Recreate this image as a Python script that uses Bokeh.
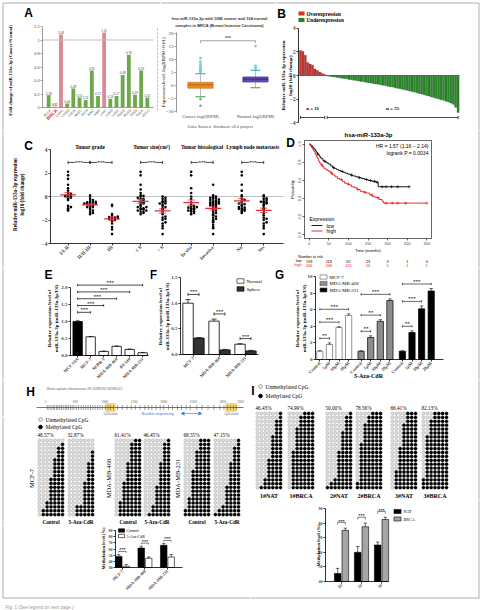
import math
import numpy as np
from bokeh.plotting import figure
from bokeh.layouts import row, column
from bokeh.models import Range1d, FixedTicker, Label, NumeralTickFormatter, Arrow, VeeHead
from bokeh.embed import file_html
from bokeh.resources import INLINE

SERIF = "Liberation Serif"
SANS = "Liberation Sans"

# ---------------- data ----------------
# A: fold change of miR-133a-3p (cancer / normal) per TCGA cohort
a_types = ["BLCA", "BRCA", "CHOL", "COAD", "ESCA", "HNSC", "KICH", "KIRC", "KIRP",
           "LIHC", "LUAD", "LUSC", "PRAD", "READ", "STAD", "THCA", "UCEC"]
a_fold = [0.18, 0.01, 1.08, 0.06, 0.28, 0.15, 0.11, 0.55, 0.17,
          1.11, 0.13, 0.17, 0.48, 0.78, 0.19, 0.55, 0.15]

# A: BRCA expression summary, log2(RPM+0.01)
box_names = ["Cancer log2(RPM)", "Normal log2(RPM)"]
box_low = [-4.4, -0.9]
box_q1 = [-1.1, 1.3]
box_med = [0.2, 2.4]
box_q3 = [1.2, 3.3]
box_high = [4.6, 5.8]
box_out_hi = [[5.2, 5.6, 6.0, 6.5, 7.0, 7.6, 8.3, 9.2, 10.6], [6.4, 7.0, 7.6, 15.2]]
box_out_lo = [[-5.3, -7.9], []]

# B: per-patient log10 fold change
b_over = [2.12, 2.05, 1.72, 1.10, 0.97, 0.88, 0.55, 0.42, 0.30, 0.18, 0.08]
b_under = [-0.04, -0.07, -0.10, -0.12, -0.16, -0.19, -0.23, -0.26, -0.28, -0.33,
           -0.36, -0.40, -0.42, -0.47, -0.50, -0.53, -0.57, -0.61, -0.63, -0.68,
           -0.72, -0.74, -0.79, -0.83, -0.86, -0.91, -0.95, -0.98, -1.04, -1.08,
           -1.12, -1.17, -1.22, -1.26, -1.32, -1.37, -1.41, -1.47, -1.53, -1.57,
           -1.64, -1.70, -1.75, -1.82, -1.88, -1.93, -2.00, -2.06, -2.11, -2.19,
           -2.26, -2.34, -2.45, -2.70, -3.15]

# C: expression by clinical feature
c_titles = ["Tumor grade", "Tumor size(cm\u00b2)", "Tumor histological", "Lymph node metastasis"]
c_labels = [["I/I-II", "II/II-III", "III"], ["\u2264 6", "> 6"], ["In situ", "Invasive"], ["No", "Yes"]]
c_grade_1 = [2.1, 1.8, 1.5, 1.0, 0.7, 0.5, 0.3, 0.2, 0.1, 0.05, 0.0, -0.05, -0.1, -0.2, -0.3,
             -0.8, -0.9, -1.0, -1.1, -1.2]
c_grade_2 = [0.1, 0.0, -0.2, -0.3, -0.4, -0.45, -0.5, -0.5, -0.55, -0.6, -0.6, -0.65, -0.7, -0.7,
             -0.8, -0.8, -0.9, -0.9, -1.0, -1.1, -1.2, -1.3, -1.4, -1.5]
c_grade_3 = [-0.7, -0.8, -1.5, -1.6, -1.7, -1.75, -1.8, -1.8, -1.85, -1.9, -2.0, -2.0, -2.1, -2.3,
             -2.6, -2.8, -3.2]
c_size_le6 = [2.1, 1.8, 1.0, 0.6, 0.3, 0.1, 0.05, 0.0, -0.1, -0.2, -0.2, -0.3, -0.4, -0.5, -0.5,
              -0.6, -0.7, -0.8, -0.9, -0.9, -1.0, -1.0, -1.1, -1.1, -1.2, -1.2, -1.3, -1.3, -1.4, -1.5]
c_size_gt6 = [0.0, -0.1, -0.2, -0.3, -0.4, -0.45, -0.5, -0.6, -0.6, -0.7, -0.8, -0.9, -1.0, -1.1,
              -1.3, -1.5, -1.7, -1.8, -1.9, -2.0, -2.2, -2.3, -2.5, -2.7, -3.2]
c_hist_situ = [2.1, 1.8, 0.7, 0.3, 0.0, -0.2, -0.5, -0.7, -0.8, -0.85, -0.9, -0.95, -1.0, -1.0,
               -1.1, -1.15, -1.2, -1.25, -1.3, -1.4, -1.5]
c_hist_inv = [1.0, 0.1, 0.0, -0.05, -0.1, -0.15, -0.2, -0.25, -0.3, -0.35, -0.4, -0.45, -0.5, -0.5,
              -0.55, -0.6, -0.6, -0.65, -0.7, -0.75, -0.8, -0.85, -0.9, -1.0, -1.1, -1.2, -1.3, -1.4,
              -1.5, -1.6, -1.7, -1.8, -1.9, -2.0, -2.1, -2.2, -2.4, -2.6, -2.7, -3.2]
c_ln_no = [2.1, 1.8, 1.0, 0.5, 0.1, 0.0, -0.2, -0.3, -0.4, -0.5, -0.6, -0.65, -0.7, -0.8, -0.9,
           -0.95, -1.0, -1.05, -1.1, -1.15, -1.2, -1.3, -1.4]
c_ln_yes = [0.1, 0.0, -0.15, -0.2, -0.3, -0.4, -0.45, -0.5, -0.55, -0.6, -0.7, -0.8, -1.0, -1.1,
            -1.2, -1.4, -1.6, -1.8, -1.9, -2.0, -2.2, -2.3, -2.5, -2.7, -3.2]
c_values = [[c_grade_1, c_grade_2, c_grade_3], [c_size_le6, c_size_gt6],
            [c_hist_situ, c_hist_inv], [c_ln_no, c_ln_yes]]
c_pairs = [[(0, 1), (1, 2)], [(0, 1)], [(0, 1)], [(0, 1)]]

# D: Kaplan-Meier estimates
km_low_t = [0, 3, 6, 9, 12, 15, 18, 21, 25, 28, 31, 35, 38, 42, 46, 50, 55, 60, 65, 70, 75, 80,
            86, 92, 98, 104, 110, 118, 126, 134, 142, 150, 160, 170, 176, 255]
km_low_s = [1.0, 0.99, 0.98, 0.96, 0.95, 0.93, 0.91, 0.89, 0.87, 0.85, 0.84, 0.82, 0.81, 0.80,
            0.79, 0.78, 0.76, 0.74, 0.73, 0.72, 0.71, 0.70, 0.69, 0.68, 0.67, 0.66, 0.65, 0.64,
            0.63, 0.62, 0.61, 0.60, 0.59, 0.58, 0.53, 0.53]
km_high_t = [0, 3, 6, 9, 12, 15, 18, 21, 24, 27, 30, 34, 38, 42, 46, 50, 55, 60, 66, 72, 78, 84,
             90, 96, 102, 108, 115, 122, 130, 138, 146, 154, 162, 170, 178, 186, 190, 300]
km_high_s = [1.0, 0.98, 0.96, 0.94, 0.92, 0.89, 0.86, 0.84, 0.81, 0.79, 0.77, 0.75, 0.73, 0.72,
             0.71, 0.70, 0.68, 0.66, 0.64, 0.62, 0.61, 0.59, 0.57, 0.56, 0.55, 0.53, 0.52, 0.50,
             0.48, 0.47, 0.46, 0.44, 0.42, 0.41, 0.39, 0.37, 0.35, 0.35]
km_low_cens = [22, 40, 62, 84, 108, 128, 146, 156, 166, 173, 186, 196, 210, 226, 255]
km_high_cens = [33, 57, 82, 100, 124, 142, 160, 176, 196, 212, 226, 246, 300]
risk_times = [0, 50, 100, 150, 200, 250, 300]
risk_low = [193, 118, 62, 23, 3, 1, 0]
risk_high = [406, 248, 125, 53, 5, 1, 1]

# E: cell lines
e_lines = ["MCF-10A", "MCF-7", "SKBR-3", "MDA-MB-468", "BT-549", "MDA-MB-231"]
e_expr = [1.00, 0.55, 0.12, 0.27, 0.18, 0.08]
e_err = [0.02, 0.01, 0.01, 0.01, 0.01, 0.01]

# F: normal vs sphere culture
f_lines = ["MCF-7", "MDA-MB-468", "MDA-MB-231"]
f_normal = [1.00, 0.65, 0.20]
f_normal_err = [0.07, 0.04, 0.01]
f_sphere = [0.32, 0.09, 0.07]
f_sphere_err = [0.01, 0.01, 0.01]

# G: 5-Aza-CdR dose response
g_lines = ["MCF-7", "MDA-MB-468", "MDA-MB-231"]
g_doses = ["Control", "5\u03bcM", "10\u03bcM", "20\u03bcM"]
g_expr = [[1.0, 1.8, 3.85, 5.3], [1.0, 2.65, 4.6, 7.1], [1.0, 3.25, 6.1, 8.25]]
g_err = [[0.05, 0.2, 0.1, 0.2], [0.05, 0.2, 0.2, 0.2], [0.05, 0.2, 0.35, 0.3]]
g_stars = [["**", "***", "***"], ["**", "**", "***"], ["**", "***", "***"]]

# H: promoter CpG map and bisulfite clones (methylated sites per clone, 7 sites x 20 clones)
cpg_sites = [30, 60, 95, 130, 150, 185, 210, 240, 270, 300, 335, 360, 390, 420, 450, 480, 520,
             560, 600, 640, 680, 720, 760, 800, 840, 880, 920, 960, 1010, 1060, 1100, 1150, 1220,
             1300, 1380, 1450, 1520, 1600, 1680, 1740, 1800, 1870, 1940, 2000, 2080, 2150, 2230,
             2300, 2380, 2450, 2560, 2650, 2750, 2850, 2950, 3020, 3080, 3130, 3180, 3230]
cpg_islands = [(1020, 1180), (3050, 3230)]
ruler_pos = [0, 500, 1000, 1500, 2000, 2500, 3000, 3300]
ruler_txt = ["1", "500", "1000", "1500", "2000", "2500", "3000", "3300"]
h_cells = ["MCF-7", "MDA-MB-468", "MDA-MB-231"]
h_cond = ["Control", "5-Aza-CdR"]
h_pct = ["48.57%", "32.87%", "61.41%", "46.45%", "68.55%", "47.15%"]
h_counts = [
    [0, 1, 2, 2, 2, 3, 3, 3, 3, 3, 4, 4, 4, 4, 4, 4, 5, 5, 6, 6],
    [0, 0, 0, 1, 1, 1, 2, 2, 2, 2, 2, 3, 3, 3, 3, 3, 3, 5, 5, 5],
    [2, 3, 3, 3, 3, 3, 4, 4, 4, 4, 4, 5, 5, 5, 5, 5, 6, 6, 6, 6],
    [1, 2, 2, 2, 2, 2, 3, 3, 3, 3, 3, 3, 4, 4, 4, 4, 4, 5, 5, 6],
    [3, 3, 3, 4, 4, 4, 4, 4, 5, 5, 5, 5, 5, 5, 5, 6, 6, 6, 7, 7],
    [1, 1, 2, 2, 2, 2, 3, 3, 3, 3, 3, 3, 4, 4, 4, 4, 4, 5, 6, 7],
]
h_meth = [48.0, 61.5, 66.0]
h_meth_err = [3.0, 3.0, 3.0]
h_aza = [32.0, 45.0, 47.0]
h_aza_err = [3.0, 2.0, 4.0]

# I: paired tissue clones
i_names = ["1#NAT", "1#BRCA", "2#NAT", "2#BRCA", "3#NAT", "3#BRCA"]
i_pct = ["46.43%", "74.99%", "50.00%", "78.56%", "66.41%", "82.13%"]
i_counts = [
    [1, 1, 2, 2, 2, 2, 3, 3, 3, 3, 3, 3, 4, 4, 4, 4, 4, 5, 5, 6],
    [3, 4, 4, 4, 5, 5, 5, 5, 5, 5, 6, 6, 6, 6, 6, 6, 6, 6, 6, 6],
    [1, 2, 2, 2, 2, 3, 3, 3, 3, 3, 4, 4, 4, 4, 4, 4, 4, 5, 6, 7],
    [3, 4, 4, 5, 5, 5, 5, 5, 6, 6, 6, 6, 6, 6, 6, 6, 6, 6, 7, 7],
    [3, 3, 3, 4, 4, 4, 4, 4, 4, 5, 5, 5, 5, 5, 5, 6, 6, 6, 6, 6],
    [4, 4, 5, 5, 5, 5, 6, 6, 6, 6, 6, 6, 6, 6, 6, 6, 6, 7, 7, 7],
]
i_pairs = ["1#", "2#", "3#"]
i_nat = [45.5, 60.0, 65.0]
i_nat_err = [3.5, 4.0, 2.0]
i_brca = [75.0, 77.5, 82.5]
i_brca_err = [1.5, 2.5, 1.5]

PAGE_W, FRAMED_H = 481, 600


# ---------------- helpers ----------------
class Panel:
    """A figure at a fixed page box.  The plot frame fills the whole box; `plot` is the
    page rectangle that the data ranges `xr`, `yr` span, and axes are pinned to its edges."""

    def __init__(self, box, plot=None, xr=(0.0, 1.0), yr=(0.0, 1.0), x_axis=False, y_axis=False):
        bx, by, bw, bh = box
        self.boxr = box
        self.plot = plot if plot is not None else (bx, by, bx + bw, by + bh)
        self.xr, self.yr = xr, yr
        left = self.at(bx, by)[0]
        right = self.at(bx + bw, by)[0]
        bottom = self.at(bx, by + bh)[1]
        top = self.at(bx, by)[1]
        self.p = figure(width=bw, height=bh, x_range=Range1d(left, right), y_range=Range1d(bottom, top),
                        x_axis_location="below" if x_axis else None,
                        y_axis_location="left" if y_axis else None,
                        min_border=0, min_border_left=0, min_border_right=0,
                        min_border_top=0, min_border_bottom=0,
                        output_backend="svg", toolbar_location=None)
        self.p.outline_line_color = None
        self.p.grid.visible = False
        self.p.background_fill_color = "white"
        self.p.border_fill_color = "white"
        if x_axis:
            xa = self.p.xaxis[0]
            xa.fixed_location = yr[0]
            xa.bounds = (min(xr), max(xr))
        if y_axis:
            ya = self.p.yaxis[0]
            ya.fixed_location = xr[0]
            ya.bounds = (min(yr), max(yr))

    def at(self, X, Y):
        fl, ft, fr, fb = self.plot
        x0, x1 = self.xr
        yb, yt = self.yr
        return (x0 + (X - fl) / (fr - fl) * (x1 - x0),
                yt + (Y - ft) / (fb - ft) * (yb - yt))

    def sx(self, n):
        fl, ft, fr, fb = self.plot
        return n * abs(self.xr[1] - self.xr[0]) / (fr - fl)

    def sy(self, n):
        fl, ft, fr, fb = self.plot
        return n * abs(self.yr[1] - self.yr[0]) / (fb - ft)

    def dtext(self, x, y, s, size=5.0, font=SERIF, style="normal", color="black",
              align="left", baseline="middle", angle=0.0, bg=None):
        kw = dict(x=x, y=y, text=s, text_font=font, text_font_size=f"{size}px",
                  text_font_style=style, text_color=color, text_align=align,
                  text_baseline=baseline, angle=angle)
        if bg:
            kw["background_fill_color"] = bg
        self.p.add_layout(Label(**kw))

    def text(self, X, Y, s, size=5.0, font=SERIF, style="normal", color="black",
             align="left", baseline="middle", angle=0.0, bg=None):
        x, y = self.at(X, Y)
        self.dtext(x, y, s, size, font, style, color, align, baseline, angle, bg)

    def box(self, X, Y, w, h, fill, line="black"):
        x, y = self.at(X, Y)
        self.p.rect(x=[x], y=[y], width=self.sx(w), height=self.sy(h),
                    fill_color=fill, line_color=line, line_width=0.6)

    def pline(self, X0, Y0, X1, Y1, color, width=0.8, dash="solid"):
        x0, y0 = self.at(X0, Y0)
        x1, y1 = self.at(X1, Y1)
        self.p.segment(x0=[x0], y0=[y0], x1=[x1], y1=[y1], line_color=color,
                       line_width=width, line_dash=dash)

    def page_edges(self, inset=2.5, color="#9a9a9a"):
        # the thin rule that frames the whole figure
        bx, by, bw, bh = self.boxr
        L, T, R, Bt = inset, inset, PAGE_W - inset, FRAMED_H - inset
        xa, xb = max(bx, L), min(bx + bw, R)
        ya, yb = max(by, T), min(by + bh, Bt)
        if by <= T:
            self.pline(xa, T, xb, T, color)
        if by + bh >= Bt:
            self.pline(xa, Bt, xb, Bt, color)
        if bx <= L:
            self.pline(L, ya, L, yb, color)
        if bx + bw >= R:
            self.pline(R, ya, R, yb, color)


def style_axis(ax, size=5.0, font=SERIF, bold=True, tick_out=2, color="black", width=0.8):
    ax.major_label_text_font = font
    ax.major_label_text_font_size = f"{size}px"
    ax.major_label_text_font_style = "bold" if bold else "normal"
    ax.major_label_standoff = 1
    ax.major_tick_in = 0
    ax.major_tick_out = tick_out
    ax.minor_tick_in = 0
    ax.minor_tick_out = 0
    ax.axis_line_color = color
    ax.axis_line_width = width
    ax.major_tick_line_color = color
    ax.major_tick_line_width = width


def bar_axes(pn, yticks, ybounds, xticks, xlabels, ysize=5.0, xsize=5.0, fmt=None):
    ya = pn.p.yaxis[0]
    ya.ticker = FixedTicker(ticks=yticks)
    ya.bounds = ybounds
    if fmt:
        ya.formatter = NumeralTickFormatter(format=fmt)
    style_axis(ya, ysize)
    xa = pn.p.xaxis[0]
    xa.ticker = FixedTicker(ticks=xticks)
    xa.major_label_overrides = {t: l for t, l in zip(xticks, xlabels)}
    xa.major_label_orientation = math.pi / 4
    style_axis(xa, xsize)


def bracket(pn, x0, x1, y, tick, stars, size=5.0, ends="both", color="black", lw=0.7,
            inline=False, font=SERIF):
    p = pn.p
    p.segment(x0=[x0], y0=[y], x1=[x1], y1=[y], line_color=color, line_width=lw)
    lo = y - tick
    hi = y + tick if ends == "both" else y
    p.segment(x0=[x0, x1], y0=[lo, lo], x1=[x0, x1], y1=[hi, hi], line_color=color, line_width=lw)
    if not stars:
        return
    if inline:
        pn.dtext((x0 + x1) / 2, y, stars, size, font, "bold", color, "center", "middle", bg="white")
    else:
        pn.dtext((x0 + x1) / 2, y, stars, size, font, "bold", color, "center", "bottom")


def up_errors(p, xs, tops, errs, cap, lw=0.7):
    ends = [t + e for t, e in zip(tops, errs)]
    p.segment(x0=xs, y0=tops, x1=xs, y1=ends, line_color="black", line_width=lw)
    p.segment(x0=[x - cap for x in xs], y0=ends, x1=[x + cap for x in xs], y1=ends,
              line_color="black", line_width=lw)


def swarm(vals, step=0.16, dx=0.13):
    # spread points sharing a value band sideways, alternating right/left
    order = np.argsort(vals, kind="stable")
    offs = np.zeros(len(vals))
    used = {}
    for i in order:
        b = int(round(vals[i] / step))
        k = used.get(b, 0)
        used[b] = k + 1
        offs[i] = ((k + 1) // 2) * dx * (1 if k % 2 == 1 else -1)
    return offs


def draw_matrix(pn, left, top, counts, ncol=7, px=3.85, py=3.9, size=3.3):
    mx, my, ux, uy = [], [], [], []
    for r, k in enumerate(counts):
        for c in range(ncol):
            x = left + px * (c + 0.5)
            y = top + py * r
            if c >= ncol - k:
                mx.append(x); my.append(y)
            else:
                ux.append(x); uy.append(y)
    pn.p.scatter(x=ux, y=uy, marker="circle", size=size, fill_color="#dedede",
                 line_color="#9c9c9c", line_width=0.4)
    pn.p.scatter(x=mx, y=my, marker="circle", size=size, fill_color="black", line_color="black",
                 line_width=0.3)


def legend_cpg(pn, X, Y1, Y2, size=5.5):
    x1, y1 = pn.at(X, Y1)
    x2, y2 = pn.at(X, Y2)
    pn.p.scatter(x=[x1], y=[y1], marker="circle", size=3.6, fill_color="white", line_color="#555", line_width=0.6)
    pn.p.scatter(x=[x2], y=[y2], marker="circle", size=3.6, fill_color="black", line_color="black")
    pn.text(X + 5, Y1, "Unmethylated CpG", size)
    pn.text(X + 5, Y2, "Methylated CpG", size)


HALF_PI = math.pi / 2

# ---------------- A (left): fold change bars ----------------
A1 = Panel((0, 0, 160, 130), (42, 26, 153, 107), (-1.0, 17.0), (0.0, 1.2), True, True)
p = A1.p
a_x = list(range(len(a_types)))
p.vbar(x=a_x, top=a_fold, width=0.62, line_color=None,
       fill_color=["#d98a93" if v > 1 else "#6ea84c" for v in a_fold])
p.segment(x0=[-1.0], y0=[1.0], x1=[17.0], y1=[1.0], line_color="#bdbdbd", line_width=1.0)
A1.pline(157, 28, 157, 112, "#a0a0a0", 0.8, "2 2")
ya = p.yaxis[0]
ya.ticker = FixedTicker(ticks=[0, 0.2, 0.4, 0.6, 0.8, 1.0, 1.2])
ya.formatter = NumeralTickFormatter(format="0.[0]")
style_axis(ya, 3.8, SANS, False, color="#888")
xa = p.xaxis[0]
xa.ticker = FixedTicker(ticks=[])
style_axis(xa, 3.8, SANS, False, color="#888")
for i, (t, v) in enumerate(zip(a_types, a_fold)):
    hot = t == "BRCA"
    A1.dtext(i, v + 0.015, f"{v:.2f}", 3.0, SANS, "bold" if hot else "normal",
             "#d62020" if hot else "#444", "center", "bottom")
    A1.dtext(i + 0.3, -0.035, t, 4.6 if hot else 3.4, SANS, "bold" if hot else "normal",
             "#e01b1b" if hot else "#444", "right", "middle", math.pi / 4)
A1.text(10, 70, "Fold change of miR-133a-3p (Cancer/Normal)", 4.6, SERIF, "bold", align="center", angle=HALF_PI)
A1.text(28, 12, "A", 12, SANS, "bold", align="center")

# ---------------- A (right): box plot ----------------
A2 = Panel((160, 0, 115, 130), (176, 32, 270, 112), (-0.436, 1.273), (-10.5, 20.5), True, True)
p = A2.p
bx = [0, 1]
p.segment(x0=bx, y0=box_q3, x1=bx, y1=box_high, line_color="#8c8c8c", line_width=0.6)
p.segment(x0=bx, y0=box_low, x1=bx, y1=box_q1, line_color="#8c8c8c", line_width=0.6)
p.vbar(x=bx, bottom=box_q1, top=box_q3, width=0.46, fill_color=["#ea8a2e", "#5b4db6"],
       line_color=["#c46b17", "#3d318f"], line_width=0.6)
p.segment(x0=[x - 0.23 for x in bx], y0=box_med, x1=[x + 0.23 for x in bx], y1=box_med,
          line_color=["#a85410", "#2e2470"], line_width=0.8)
p.segment(x0=[x - 0.09 for x in bx], y0=box_high, x1=[x + 0.09 for x in bx], y1=box_high,
          line_color="#48b8cc", line_width=1.2)
p.segment(x0=[x - 0.09 for x in bx], y0=box_low, x1=[x + 0.09 for x in bx], y1=box_low,
          line_color="#35a035", line_width=1.2)
for x, hi, lo in zip(bx, box_out_hi, box_out_lo):
    p.scatter(x=[x] * len(hi), y=hi, marker="circle", size=2.2, fill_color="#8fd6e2",
              line_color="#4fb3c6", line_width=0.4)
    if lo:
        p.scatter(x=[x] * len(lo), y=lo, marker="circle", size=2.2, fill_color="#a0a0a0",
                  line_color="#777", line_width=0.4)
ya = p.yaxis[0]
ya.ticker = FixedTicker(ticks=[-10, -5, 0, 5, 10, 15, 20])
style_axis(ya, 5.0, SERIF, False, color="#555", width=0.6)
xa = p.xaxis[0]
xa.ticker = FixedTicker(ticks=bx)
xa.major_label_overrides = {0: box_names[0], 1: box_names[1]}
style_axis(xa, 4.8, SERIF, False, tick_out=0)
xa.axis_line_color = None
bracket(A2, 0, 1, 17.3, 0.0, "***", 5.0, color="#666", lw=0.6, font=SANS)
p.segment(x0=[0, 1], y0=[17.3, 17.3], x1=[0, 1], y1=[16.4, 16.4], line_color="#666", line_width=0.6)
A2.text(219, 18, "hsa-miR-133a-3p with 1085 cancer and 104 normal", 4.0, SANS, "bold", "#333", "center")
A2.text(219, 25, "samples in BRCA (Breast Invasive Carcinoma)", 4.0, SANS, "bold", "#333", "center")
A2.text(221, 126, "Data Source:   Starbase v3.0 project", 4.2, SANS, "normal", "#555", "center")
A2.text(163, 72, "Expression level: log2(RPM+0.01)", 5.0, SERIF, align="center", angle=HALF_PI)

# ---------------- B: waterfall ----------------
B = Panel((275, 0, 206, 130), (298, 27, 460, 123), (-0.8, 66.0), (-4.08, 4.08), False, True)
p = B.p
n_over, n_under = len(b_over), len(b_under)
p.vbar(x=list(range(n_over)), bottom=0, top=b_over, width=0.86, fill_color="#c0392f",
       line_color="#6e1510", line_width=0.3)
p.vbar(x=list(range(n_over, n_over + n_under)), bottom=0, top=b_under, width=0.86,
       fill_color="#2c8a2c", line_color="#124d12", line_width=0.3)
p.segment(x0=[-0.5], y0=[0], x1=[n_over + n_under - 0.5], y1=[0], line_color="#444", line_width=0.6)
ya = p.yaxis[0]
ya.ticker = FixedTicker(ticks=[-4, -2, 0, 2, 4])
ya.bounds = (-4, 4)
style_axis(ya, 5.2)
yb = B.at(0, 117)[1]
bracket(B, 0, n_over - 1, yb, 0.14, "")
bracket(B, n_over, n_over + n_under - 1, yb, 0.14, "")
yn = B.at(0, 108)[1]
B.dtext((n_over - 1) / 2, yn, f"n = {n_over}", 5.0, SERIF, "bold", align="center")
B.dtext(n_over + (n_under - 1) / 2, yn, f"n = {n_under}", 5.0, SERIF, "bold", align="center")
B.box(301, 13, 6, 4, "#e0302a", None)
B.box(301, 19.5, 6, 4, "#1d8a1d", None)
B.text(306, 13, "Overexpression", 5.2, SERIF, "bold")
B.text(306, 19.5, "Underexpression", 5.2, SERIF, "bold")
B.text(283, 75, "Relative miR-133a-3p expression", 5.0, SERIF, "bold", align="center", angle=HALF_PI)
B.text(290, 75, "log10 (fold change)", 5.0, SERIF, "bold", align="center", angle=HALF_PI)
B.text(281, 13.5, "B", 12, SANS, "bold", align="center")

# ---------------- C: clinical features ----------------
C = Panel((0, 130, 285, 137), (50, 149, 283, 243), (-0.8, 9.8), (-4.0, 4.0), True, True)
p = C.p
p.segment(x0=[-0.8], y0=[0], x1=[9.8], y1=[0], line_color="#b0b0b0", line_width=0.8)
c_ticks, c_ticklabels = [], []
k = 0
for g, vals_g in enumerate(c_values):
    ps = []
    for j, vals in enumerate(vals_g):
        x = k + 0.3 * g
        ps.append(x)
        c_ticks.append(x)
        c_ticklabels.append(c_labels[g][j])
        k += 1
        v = np.array(vals)
        p.scatter(x=x + swarm(v), y=v, marker="circle", size=2.6, fill_color="black", line_color=None)
        m = v.mean()
        se = v.std(ddof=1) / math.sqrt(len(v))
        p.segment(x0=[x - 0.36], y0=[m], x1=[x + 0.36], y1=[m], line_color="#e0303a", line_width=1.2)
        p.segment(x0=[x, x - 0.16, x - 0.16], y0=[m - se, m - se, m + se],
                  x1=[x, x + 0.16, x + 0.16], y1=[m + se, m - se, m + se],
                  line_color="#e0303a", line_width=0.8)
    C.dtext(sum(ps) / len(ps), C.at(0, 146)[1], c_titles[g], 5.3, SERIF, "bold", align="center")
    for a, b in c_pairs[g]:
        bracket(C, ps[a], ps[b], 2.9, 0.13, "***", 5.0, inline=True)
ya = p.yaxis[0]
ya.ticker = FixedTicker(ticks=[-4, -2, 0, 2, 4])
style_axis(ya, 5.5)
xa = p.xaxis[0]
xa.ticker = FixedTicker(ticks=c_ticks)
xa.major_label_overrides = {t: l for t, l in zip(c_ticks, c_ticklabels)}
xa.major_label_orientation = math.pi / 4
style_axis(xa, 5.0)
C.text(14, 194, "Relative miR-133a-3p expression", 5.2, SERIF, "bold", align="center", angle=HALF_PI)
C.text(21, 194, "log10 (fold change)", 5.2, SERIF, "bold", align="center", angle=HALF_PI)
C.text(28, 145, "C", 12, SANS, "bold", align="center")

# ---------------- D: Kaplan-Meier ----------------
D = Panel((285, 130, 196, 137), (304, 140, 431, 238), (-12, 312), (-0.04, 1.04), True, True)
p = D.p
p.quad(left=[-12], right=[312], bottom=[-0.04], top=[1.04], fill_color=None,
       line_color="black", line_width=0.6)


def surv_at(times, surv, t):
    i = int(np.searchsorted(times, t, side="right")) - 1
    return surv[max(i, 0)]


for ts, ss, cens, col in [(km_low_t, km_low_s, km_low_cens, "black"),
                          (km_high_t, km_high_s, km_high_cens, "#e8161b")]:
    p.step(x=ts, y=ss, mode="after", line_color=col, line_width=0.9)
    p.scatter(x=cens, y=[surv_at(ts, ss, t) for t in cens], marker="cross", size=3.2,
              line_color=col, line_width=0.6)
ya = p.yaxis[0]
ya.ticker = FixedTicker(ticks=[0, 0.2, 0.4, 0.6, 0.8, 1.0])
ya.formatter = NumeralTickFormatter(format="0.0")
ya.major_label_orientation = "vertical"
style_axis(ya, 4.0, SANS, False, width=0.6)
ya.axis_line_color = None
xa = p.xaxis[0]
xa.ticker = FixedTicker(ticks=risk_times)
style_axis(xa, 4.0, SANS, False, width=0.6)
xa.axis_line_color = None
D.text(368, 134.5, "hsa-miR-133a-3p", 6.0, SANS, "bold", align="center")
D.text(428, 145.5, "HR = 1.57 (1.16 \u2212 2.14)", 5.0, SANS, align="right")
D.text(428, 152, "logrank P = 0.0034", 5.0, SANS, align="right")
D.text(309, 218.5, "Expression", 5.0, SANS)
for Y, col, name in [(225, "black", "low"), (230.5, "#e8161b", "high")]:
    D.pline(311, Y, 322, Y, col, 0.9)
    D.text(326, Y, name, 5.0, SANS)
D.text(292, 189, "Probability", 4.0, SANS, align="center", angle=HALF_PI)
D.text(367.5, 250, "Time (months)", 4.0, SANS, align="center")
D.text(310, 256.5, "Number at risk", 3.8, SANS, align="center")
D.text(301, 260.5, "low", 3.8, SANS, align="right")
D.text(301, 264.5, "high", 3.8, SANS, color="#e8161b", align="right")
for t, lo, hi in zip(risk_times, risk_low, risk_high):
    D.dtext(t, D.at(0, 260.5)[1], str(lo), 3.8, SANS, align="center")
    D.dtext(t, D.at(0, 264.5)[1], str(hi), 3.8, SANS, color="#e8161b", align="center")
D.text(290, 142, "D", 12, SANS, "bold", align="center")

# ---------------- E: cell lines ----------------
E = Panel((0, 267, 150, 113), (70, 287, 148, 355), (-0.55, 5.45), (0, 2.0), True, True)
p = E.p
ex = list(range(len(e_lines)))
p.vbar(x=ex, top=e_expr, width=0.72, fill_color=["black"] + ["white"] * (len(ex) - 1),
       line_color="black", line_width=0.8)
up_errors(p, ex, e_expr, e_err, 0.15)
for k in range(1, len(ex)):
    bracket(E, 0, k, 1.07 + 0.2 * k, 0.035, "***", 5.0)
bar_axes(E, [0, 0.5, 1.0, 1.5, 2.0], (0, 2.0), ex, e_lines, xsize=4.4, fmt="0.0")
E.text(49, 318, "Relative expression level of", 5.0, SERIF, "bold", align="center", angle=HALF_PI)
E.text(56, 318, "miR-133a-3p (miR-133a-3p/U6)", 5.0, SERIF, "bold", align="center", angle=HALF_PI)
E.text(48, 274.5, "E", 12, SANS, "bold", align="center")

# ---------------- F: sphere culture ----------------
F = Panel((150, 267, 125, 113), (180, 277, 258, 354), (-0.5, 2.5), (0, 1.5), True, True)
p = F.p
fx = list(range(len(f_lines)))
off = 0.21
xn = [x - off for x in fx]
xs_ = [x + off for x in fx]
p.vbar(x=xn, top=f_normal, width=0.4, fill_color="white", line_color="black", line_width=0.8)
p.vbar(x=xs_, top=f_sphere, width=0.4, fill_color="#333333", line_color="black", line_width=0.8)
up_errors(p, xn, f_normal, f_normal_err, 0.1)
up_errors(p, xs_, f_sphere, f_sphere_err, 0.1)
for i in fx:
    h = max(f_normal[i] + f_normal_err[i], f_sphere[i] + f_sphere_err[i]) + 0.1
    bracket(F, xn[i], xs_[i], h, 0.03, "***", 5.0)
bar_axes(F, [0, 0.5, 1.0, 1.5], (0, 1.5), fx, f_lines, xsize=4.4, fmt="0.0")
F.box(240, 280.5, 7, 4.5, "white")
F.box(240, 288.5, 7, 4.5, "#333333")
F.text(246, 280.5, "Normal", 5.0)
F.text(246, 288.5, "Sphere", 5.0)
F.text(160, 316, "Relative expression level of", 5.0, SERIF, "bold", align="center", angle=HALF_PI)
F.text(167, 316, "miR-133a-3p (miR-133a-3p/U6)", 5.0, SERIF, "bold", align="center", angle=HALF_PI)
F.text(153, 274.5, "F", 12, SANS, "bold", align="center")

# ---------------- G: 5-Aza-CdR ----------------
G = Panel((275, 267, 206, 113), (315, 276, 443, 359), (-0.45, 12.88), (0, 10), True, True)
p = G.p
g_fill = ["white", "#8c8c8c", "black"]
g_ticks, g_ticklabels = [], []
for g in range(len(g_lines)):
    xg = [g * 4.3 + i for i in range(len(g_doses))]
    g_ticks += xg
    g_ticklabels += g_doses
    p.vbar(x=xg, top=g_expr[g], width=0.65, fill_color=g_fill[g],
           line_color="#666" if g == 0 else "black", line_width=0.7)
    up_errors(p, xg, g_expr[g], g_err[g], 0.18, lw=0.6)
    for i in range(1, len(g_doses)):
        bracket(G, xg[0], xg[i], g_expr[g][i] + g_err[g][i] + 0.55, 0.14, g_stars[g][i - 1], 5.0, lw=0.6)
bar_axes(G, [0, 2, 4, 6, 8, 10], (0, 10), g_ticks, g_ticklabels, xsize=4.5)
for j, (name, col) in enumerate(zip(g_lines, g_fill)):
    G.box(323, 276.5 + 6.5 * j, 7, 4.2, col, "#555")
    G.text(329, 276.5 + 6.5 * j, name, 4.8)
G.text(368, 375, "5-Aza-CdR", 6.0, SERIF, "bold", align="center")
G.text(297, 318, "Relative expression level of", 5.0, SERIF, "bold", align="center", angle=HALF_PI)
G.text(304, 318, "miR-133a-3p (miR-133a-3p/U6)", 5.0, SERIF, "bold", align="center", angle=HALF_PI)
G.text(279, 274.5, "G", 12, SANS, "bold", align="center")

# ---------------- H: CpG map ----------------
bp_px, bp_org = 0.0591, 45.0
HG = Panel((0, 380, 250, 36), None, (-bp_org / bp_px, (250 - bp_org) / bp_px), (416, 380))
p = HG.p
p.quad(left=[a for a, b in cpg_islands], right=[b for a, b in cpg_islands], top=403, bottom=411,
       fill_color="#f6d365", fill_alpha=0.9, line_color="#e0b840", line_width=0.4)
p.segment(x0=[-150], y0=[407], x1=[3350], y1=[407], line_color="#555", line_width=0.8)
p.segment(x0=cpg_sites, y0=404.5, x1=cpg_sites, y1=409.5, line_color="#444", line_width=0.5)
for pos, t in zip(ruler_pos, ruler_txt):
    HG.dtext(pos, 400.5, t, 3.4, SERIF, color="#555", align="center")
for a, b in cpg_islands:
    HG.dtext((a + b) / 2, 413, "CpG island", 2.8, SANS, color="#666", align="center")
HG.dtext(1900, 413, "Bisulfite sequencing", 3.6, SANS, color="#3a6fd8", align="center")
p.add_layout(Arrow(start=VeeHead(size=3, line_color="#3a6fd8", fill_color="#3a6fd8"),
                   end=VeeHead(size=3, line_color="#3a6fd8", fill_color="#3a6fd8"),
                   x_start=2300, y_start=413, x_end=2640, y_end=413,
                   line_color="#3a6fd8", line_width=0.6))
HG.text(46, 388.5, "Homo sapiens chromosome 20: 62965912-62965113", 3.6, SERIF, "italic", "#555")
HG.text(30, 391, "H", 12, SANS, "bold", align="center")

# ---------------- H: bisulfite clones ----------------
HM = Panel((0, 416, 250, 109), None, (0, 250), (525, 416))
legend_cpg(HM, 40, 419, 426.5)
h_lefts = [37, 67, 114, 143, 183, 213]
for m, (left, counts) in enumerate(zip(h_lefts, h_counts)):
    draw_matrix(HM, left, 440, counts)
    HM.text(left, 434, h_pct[m], 5.2)
    HM.text(left + 13.5, 521, h_cond[m % 2], 5.2, SERIF, "bold", align="center")
for cell, X in zip(h_cells, [31, 108, 177]):
    HM.text(X, 478, cell, 6.5, SERIF, align="center", angle=HALF_PI)

# ---------------- H: methylation bars ----------------
HB = Panel((0, 525, 250, FRAMED_H - 525), (115, 530, 182, 567), (-0.31, 2.67), (30, 90), True, True)
p = HB.p
hx = list(range(len(h_cells)))
hc = [x - 0.165 for x in hx]
ha = [x + 0.165 for x in hx]
p.vbar(x=hc, bottom=30, top=h_meth, width=0.29, fill_color="black", line_color="black", line_width=0.6)
p.vbar(x=ha, bottom=30, top=h_aza, width=0.29, fill_color="white", line_color="black", line_width=0.6)
up_errors(p, hc, h_meth, h_meth_err, 0.07, lw=0.6)
up_errors(p, ha, h_aza, h_aza_err, 0.07, lw=0.6)
for i in hx:
    h = max(h_meth[i] + h_meth_err[i], h_aza[i] + h_aza_err[i]) + 5
    p.segment(x0=[hc[i], hc[i], ha[i]], y0=[h, h, h], x1=[ha[i], hc[i], ha[i]], y1=[h, h - 2, h - 2],
              line_color="black", line_width=0.5)
    HB.dtext(hx[i], h - 1.2, "***", 4.2, SERIF, "bold", align="center", baseline="bottom")
bar_axes(HB, [30, 40, 50, 60, 70, 80, 90], (30, 90), hx, h_cells, ysize=4.0, xsize=4.3)
HB.box(121, 530, 6, 3.4, "black")
HB.box(121, 535.5, 6, 3.4, "white")
HB.text(126, 530, "Control", 4.0)
HB.text(126, 535.5, "5-Aza-CdR", 4.0)
HB.text(103, 548, "Methylation level (%)", 4.5, SERIF, "bold", align="center", angle=HALF_PI)

# ---------------- I: tissue clones ----------------
IT = Panel((250, 380, 231, 120), None, (250, 481), (500, 380))
legend_cpg(IT, 260, 386, 395.5)
i_lefts = [255, 287, 325, 355, 390, 421]
for m, (left, counts) in enumerate(zip(i_lefts, i_counts)):
    draw_matrix(IT, left, 413, counts)
    IT.text(left, 407, i_pct[m], 5.2)
    IT.text(left + 13.5, 495, i_names[m], 6.0, SERIF, "bold", align="center")
IT.text(252.5, 390, "I", 12, SANS, "bold", align="center")

# ---------------- I: methylation bars ----------------
IB = Panel((250, 500, 231, FRAMED_H - 500), (325, 508, 388, 581), (-0.8, 2.35), (40, 90), True, True)
p = IB.p
ix = list(range(len(i_pairs)))
xn_ = [x - 0.19 for x in ix]
xb_ = [x + 0.19 for x in ix]
p.vbar(x=xn_, bottom=40, top=i_nat, width=0.33, fill_color="black", line_color="black", line_width=0.6)
p.vbar(x=xb_, bottom=40, top=i_brca, width=0.33, fill_color="#a6a6a6", line_color="black", line_width=0.6)
up_errors(p, xn_, i_nat, i_nat_err, 0.08, lw=0.6)
up_errors(p, xb_, i_brca, i_brca_err, 0.08, lw=0.6)
for i in ix:
    h = min(max(i_nat[i] + i_nat_err[i], i_brca[i] + i_brca_err[i]) + 4, 89.5)
    p.segment(x0=[xn_[i], xn_[i], xb_[i]], y0=[h, h, h], x1=[xb_[i], xn_[i], xb_[i]], y1=[h, h - 1.5, h - 1.5],
              line_color="black", line_width=0.5)
    IB.dtext(ix[i], h - 0.8, "***", 4.2, SERIF, "bold", align="center", baseline="bottom")
bar_axes(IB, [40, 50, 60, 70, 80, 90], (40, 90), ix, i_pairs, ysize=4.0, xsize=4.5)
IB.box(397, 511, 7, 4, "black")
IB.box(397, 518.5, 7, 4, "#a6a6a6")
IB.text(403, 511, "NAT", 4.2)
IB.text(403, 518.5, "BRCA", 4.2)
IB.text(318, 545, "Methylation level (%)", 4.5, SERIF, "bold", align="center", angle=HALF_PI)

# ---------------- caption strip ----------------
CAP = Panel((0, FRAMED_H, PAGE_W, 610 - FRAMED_H), None, (0, PAGE_W), (610, FRAMED_H))
CAP.text(5, 604.5, "Fig. 1 (See legend on next page.)", 4.6, SANS, color="#999")

for pn in (A1, A2, B, C, D, E, F, G, HG, HM, HB, IT, IB):
    pn.page_edges()

framed = column(
    row(A1.p, A2.p, B.p),
    row(C.p, D.p),
    row(E.p, F.p, G.p),
    row(column(HG.p, HM.p, HB.p), column(IT.p, IB.p)),
)
root = column(framed, CAP.p)
open("out.html", "w").write(file_html(root, INLINE))
